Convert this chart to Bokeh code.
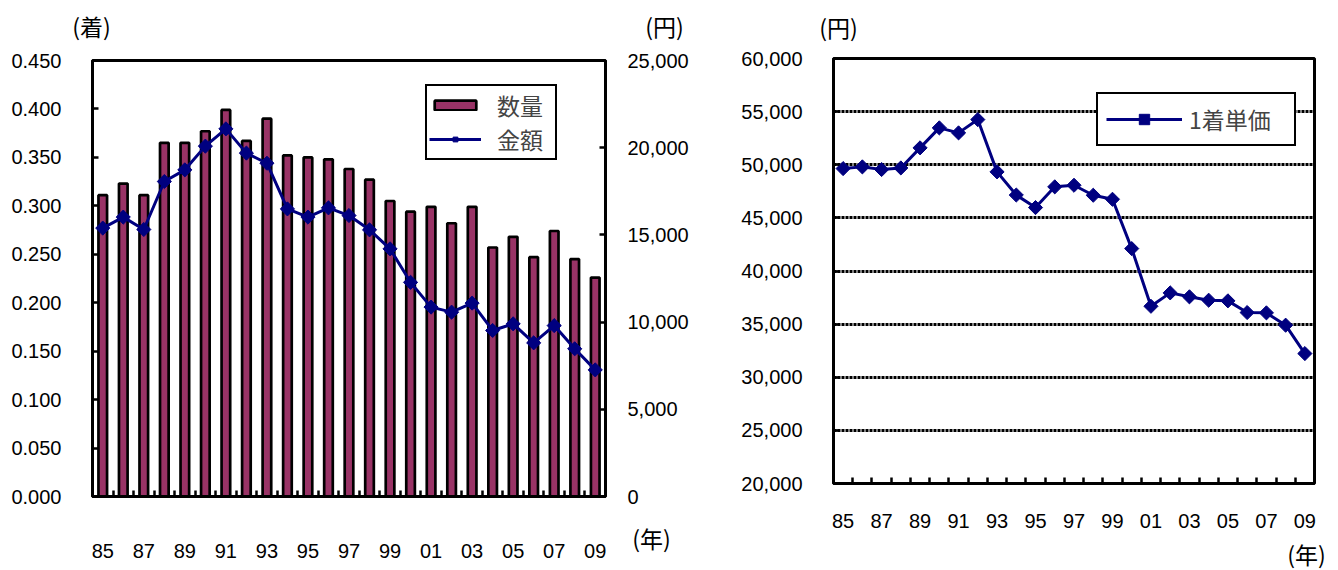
import math
from bokeh.plotting import figure
from bokeh.models import (Range1d, LinearAxis, FixedTicker, NumeralTickFormatter,
                          Legend, LegendItem, Label, Grid)
from bokeh.layouts import row, column
from bokeh.embed import file_html
from bokeh.resources import INLINE

# ---------------- data ----------------
years = list(range(1985, 2010))
tick_years = [1985, 1987, 1989, 1991, 1993, 1995, 1997, 1999, 2001, 2003, 2005, 2007, 2009]
tick_labels = ["85", "87", "89", "91", "93", "95", "97", "99", "01", "03", "05", "07", "09"]

quantity = [0.311, 0.323, 0.311, 0.365, 0.365, 0.377, 0.399, 0.367, 0.390, 0.352,
            0.350, 0.348, 0.338, 0.327, 0.305, 0.294, 0.299, 0.282, 0.299, 0.257,
            0.268, 0.247, 0.274, 0.245, 0.226]
amount = [15390, 16020, 15310, 18060, 18730, 20090, 21080, 19690, 19110, 16490,
          16020, 16550, 16110, 15290, 14200, 12280, 10860, 10570, 11090, 9520,
          9900, 8810, 9800, 8470, 7260]
unit_price = [49640, 49800, 49550, 49700, 51590, 53470, 53000, 54250, 49330, 47150,
              45970, 47920, 48070, 47130, 46750, 42110, 36680, 37940, 37570, 37250,
              37190, 36090, 36060, 34900, 32230]

qty_ticks = [0.0, 0.05, 0.1, 0.15, 0.2, 0.25, 0.3, 0.35, 0.4, 0.45]
amt_ticks = [0, 5000, 10000, 15000, 20000, 25000]
price_ticks = [20000, 25000, 30000, 35000, 40000, 45000, 50000, 55000, 60000]

# ---------------- style / layout constants ----------------
NUM_FONT = "Liberation Sans"
CJK_FONT = "Noto Sans CJK JP"
CJK_SIZE = "23px"
BAR_COLOR = "#993366"
LINE_COLOR = "#000080"
W, H, TOP, BOT = 1338, 570, 45, 34
MAIN_W = 608          # left chart body (frame 92..605)
AXR_W = 122           # right-hand amount axis column of the left chart
LEFT_W = MAIN_W + AXR_W
AXR_STRIP = 55        # caption strip under the amount axis

boundaries = [y + 0.5 for y in years[:-1]]
overrides = {yr: lab for yr, lab in zip(tick_years, tick_labels)}


def style_y(ax, standoff, tick_in=6):
    ax.axis_line_width = 3
    ax.axis_line_color = "black"
    ax.major_tick_in = tick_in
    ax.major_tick_out = 0
    ax.major_tick_line_width = 2.5
    ax.major_tick_line_color = "black"
    ax.minor_tick_line_color = None
    ax.major_label_text_font = NUM_FONT
    ax.major_label_text_font_size = "20px"
    ax.major_label_text_color = "black"
    ax.major_label_standoff = standoff


def make_x_axis(standoff):
    ax = LinearAxis(ticker=FixedTicker(ticks=tick_years, minor_ticks=boundaries))
    ax.major_label_overrides = overrides
    ax.axis_line_width = 3
    ax.axis_line_color = "black"
    ax.major_tick_in = 0
    ax.major_tick_out = 0
    ax.minor_tick_in = 6
    ax.minor_tick_out = 0
    ax.minor_tick_line_width = 2.5
    ax.minor_tick_line_color = "black"
    ax.major_label_text_font = NUM_FONT
    ax.major_label_text_font_size = "20px"
    ax.major_label_text_color = "black"
    ax.major_label_standoff = standoff
    return ax


def unit_label(text, x, y):
    return Label(x=x, y=y, text=text, text_align="center", text_baseline="middle",
                 text_font=CJK_FONT, text_font_size=CJK_SIZE, text_color="black")


def base_fig(width, height, xr, yr, **borders):
    p = figure(width=width, height=height, x_range=xr, y_range=yr,
               output_backend="svg", toolbar_location=None, x_axis_type=None, y_axis_type=None,
               **borders)
    if "frame_align" in p.properties():
        p.frame_align = False
    p.background_fill_color = "white"
    p.border_fill_color = "white"
    return p


def strip(width, height):
    s = base_fig(width, height, Range1d(0, width), Range1d(0, height),
                 min_border=0, min_border_left=0, min_border_right=0, min_border_top=0,
                 min_border_bottom=0)
    s.outline_line_color = None
    return s


# ---------------- top strip holding the unit captions ----------------
top = strip(W, TOP)
top.add_layout(unit_label("(着)", 91, TOP - 25))
top.add_layout(unit_label("(円)", 664, TOP - 25))
top.add_layout(unit_label("(円)", 838, TOP - 26))

# ---------------- left chart body ----------------
p1 = base_fig(MAIN_W, H - TOP, Range1d(1984.5, 2009.5), Range1d(0, 0.45),
              min_border_left=92, min_border_right=MAIN_W - 605, min_border_top=60 - TOP,
              min_border_bottom=74)
p1.extra_y_ranges = {"amt": Range1d(0, 25000)}
p1.outline_line_color = "black"
p1.outline_line_width = 3

yl = LinearAxis(ticker=FixedTicker(ticks=qty_ticks), formatter=NumeralTickFormatter(format="0.000"))
style_y(yl, 31)
p1.add_layout(yl, "left")
# inward ticks of the amount axis on the frame's right edge (its numbers sit in the next column)
yr_ticks = LinearAxis(y_range_name="amt", ticker=FixedTicker(ticks=amt_ticks))
style_y(yr_ticks, 0)
yr_ticks.major_label_overrides = {t: "" for t in amt_ticks}
p1.add_layout(yr_ticks, "right")
p1.add_layout(make_x_axis(47), "below")

bars = p1.vbar(x=years, top=quantity, width=0.42, fill_color=BAR_COLOR,
               line_color="black", line_width=2.7)
ln1 = p1.line(years, amount, y_range_name="amt", line_color=LINE_COLOR, line_width=3)
mk1 = p1.scatter(years, amount, y_range_name="amt", marker="square", angle=math.pi / 4,
                 size=10, fill_color=LINE_COLOR, line_color=LINE_COLOR)

leg1 = Legend(items=[LegendItem(label="数量", renderers=[bars]),
                     LegendItem(label="金額", renderers=[ln1, mk1])],
              location=(333, 336), glyph_width=52, glyph_height=12, label_height=26,
              spacing=0, padding=2, label_standoff=16, label_width=56, margin=0,
              border_line_color="black", border_line_width=2.5, border_line_alpha=1,
              label_text_font=CJK_FONT, label_text_font_size=CJK_SIZE,
              background_fill_color="white", background_fill_alpha=1)
p1.add_layout(leg1)

# ---------------- amount axis column (numbers right of the left chart) ----------------
axr = base_fig(AXR_W, H - TOP - AXR_STRIP, Range1d(0, 1), Range1d(0, 25000),
               min_border_left=0, min_border_right=AXR_W - 2, min_border_top=60 - TOP,
               min_border_bottom=(H - AXR_STRIP) - 496)
axr.outline_line_color = None
yr = LinearAxis(ticker=FixedTicker(ticks=amt_ticks), formatter=NumeralTickFormatter(format="0,0"))
style_y(yr, 17, tick_in=0)
yr.axis_line_color = None
yr.major_tick_line_color = None
axr.add_layout(yr, "right")

axr_strip = strip(AXR_W, AXR_STRIP)
axr_strip.add_layout(unit_label("(年)", 651 - MAIN_W, H - 537))

# ---------------- right chart ----------------
p2 = base_fig(W - LEFT_W, H - TOP - BOT, Range1d(1984.5, 2009.5), Range1d(20000, 60000),
              min_border_left=833 - LEFT_W, min_border_right=24, min_border_top=58 - TOP,
              min_border_bottom=H - BOT - 483)
p2.outline_line_color = "black"
p2.outline_line_width = 3

p2.add_layout(Grid(dimension=1, ticker=FixedTicker(ticks=price_ticks),
                   grid_line_color="black", grid_line_width=3, grid_line_dash="3 1"))
y2 = LinearAxis(ticker=FixedTicker(ticks=price_ticks), formatter=NumeralTickFormatter(format="0,0"))
style_y(y2, 31)
p2.add_layout(y2, "left")
p2.add_layout(make_x_axis(30), "below")

ln2 = p2.line(years, unit_price, line_color=LINE_COLOR, line_width=3)
mk2 = p2.scatter(years, unit_price, marker="square", angle=math.pi / 4, size=10,
                 fill_color=LINE_COLOR, line_color=LINE_COLOR)

leg2 = Legend(items=[LegendItem(label="1着単価", renderers=[ln2, mk2])],
              location=(263, 337), glyph_width=76, glyph_height=26, label_height=26,
              padding=8, label_standoff=7, label_width=97, margin=0,
              border_line_color="black", border_line_width=2.5, border_line_alpha=1,
              label_text_font=CJK_FONT, label_text_font_size=CJK_SIZE,
              background_fill_color="white", background_fill_alpha=1)
p2.add_layout(leg2)

# bottom strip under the right chart for its "(年)" caption
bot = strip(W - LEFT_W, BOT)
bot.add_layout(unit_label("(年)", 1306 - LEFT_W, H - 553))

layout = column(
    top,
    row(p1, column(axr, axr_strip, spacing=0), column(p2, bot, spacing=0), spacing=0),
    spacing=0,
)
open("out.html", "w").write(file_html(layout, INLINE))
